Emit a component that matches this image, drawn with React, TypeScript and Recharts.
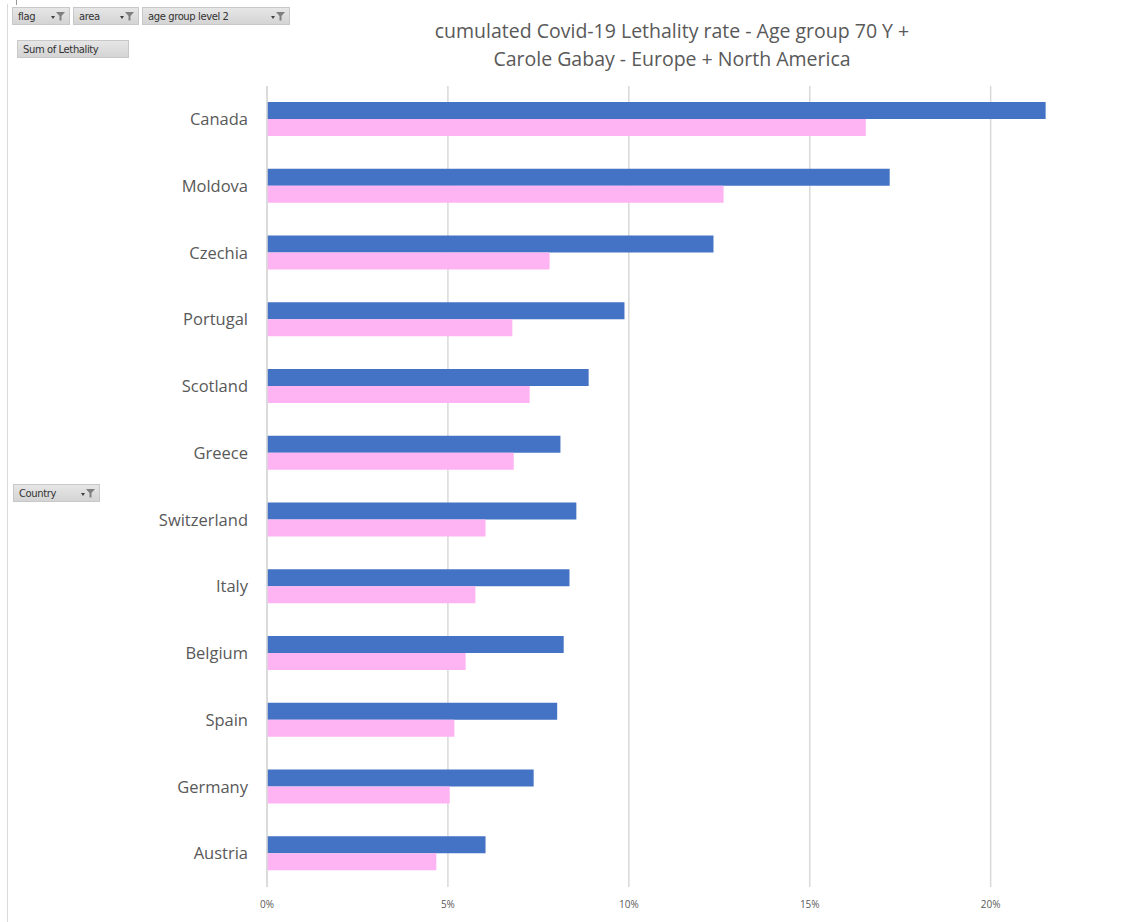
import React from 'react';
import { BarChart, Bar, XAxis, YAxis, CartesianGrid } from 'recharts';

const countries = [
  'Canada', 'Moldova', 'Czechia', 'Portugal', 'Scotland', 'Greece',
  'Switzerland', 'Italy', 'Belgium', 'Spain', 'Germany', 'Austria',
];
const seriesA = [0.2152, 0.1721, 0.1234, 0.0988, 0.0889, 0.0811, 0.0855, 0.0836, 0.082, 0.0802, 0.0737, 0.0604];
const seriesB = [0.1655, 0.1262, 0.0781, 0.0678, 0.0726, 0.0682, 0.0604, 0.0576, 0.0549, 0.0518, 0.0505, 0.0468];
const xTicks = [0, 0.05, 0.1, 0.15, 0.2];

const data = countries.map((c, i) => ({ country: c, a: seriesA[i], b: seriesB[i] }));

const BLUE = '#4472C4';
const PINK = '#FEB4F2';
const TEXT = '#595959';
const GRID = '#D9D9D9';

const Funnel: React.FC = () => (
  <svg width="16" height="10" viewBox="0 0 16 10" style={{ marginLeft: 4 }}>
    <path d="M1 5 L5 5 L3 8 Z" fill="#404040" />
    <path d="M6 1 L15 1 L11.5 5 L11.5 9.5 L9.5 9.5 L9.5 5 Z" fill="#7f7f7f" />
  </svg>
);

const FieldButton: React.FC<{ label: string; left: number; top: number; width: number; filter?: boolean }> = ({
  label, left, top, width, filter = true,
}) => (
  <div
    style={{
      position: 'absolute',
      left,
      top,
      width,
      height: 18,
      boxSizing: 'border-box',
      background: 'linear-gradient(#e6e6e6, #d4d4d4)',
      border: '1px solid #c8c8c8',
      display: 'flex',
      alignItems: 'center',
      justifyContent: 'space-between',
      padding: '0 3px 0 5px',
      fontFamily: 'Tahoma, "DejaVu Sans", sans-serif',
      fontSize: 10,
      letterSpacing: -0.4,
      color: '#333',
    }}
  >
    <span>{label}</span>
    {filter && <Funnel />}
  </div>
);

export default function App() {
  return (
    <div style={{ position: 'absolute', left: 0, top: 0, width: 1132, height: 922, background: '#fff', overflow: 'hidden' }}>
      <div style={{ position: 'absolute', left: 7, top: 4, width: 1, height: 918, background: '#d9d9d9' }} />
      <div style={{ position: 'absolute', left: 16, top: 0, width: 1, height: 5, background: '#999' }} />
      <FieldButton label="flag" left={12} top={7} width={58} />
      <FieldButton label="area" left={73} top={7} width={66} />
      <FieldButton label="age group level 2" left={142} top={7} width={148} />
      <FieldButton label="Sum of Lethality" left={17} top={40} width={112} filter={false} />
      <FieldButton label="Country" left={13} top={484} width={87} />
      <div
        style={{
          position: 'absolute',
          left: 372,
          top: 17,
          width: 600,
          textAlign: 'center',
          fontFamily: '"Open Sans", sans-serif',
          fontSize: 19.5,
          lineHeight: '28px',
          color: TEXT,
        }}
      >
        cumulated Covid-19 Lethality rate - Age group 70 Y +
        <br />
        Carole Gabay - Europe + North America
      </div>
      <div style={{ position: 'absolute', left: 0, top: 0 }}>
        <BarChart
          width={1132}
          height={922}
          data={data}
          layout="vertical"
          margin={{ top: 86, right: 69, bottom: 0, left: 0 }}
          barGap={0}
          barSize={17}
        >
          <CartesianGrid horizontal={false} verticalValues={xTicks} stroke={GRID} strokeWidth={1.5} />
          <XAxis
            type="number"
            domain={[0, 0.22]}
            ticks={xTicks}
            axisLine={false}
            tickLine={false}
            tickSize={0}
            tickMargin={14}
            tickFormatter={(v: number) => `${Math.round(v * 100)}%`}
            tick={{ fill: TEXT, fontSize: 10, fontFamily: '"Open Sans", sans-serif' }}
            height={35}
          />
          <YAxis
            type="category"
            dataKey="country"
            width={267}
            axisLine={{ stroke: GRID, strokeWidth: 1.5 }}
            tickLine={false}
            tickSize={0}
            tickMargin={19}
            interval={0}
            tick={{ fill: TEXT, fontSize: 16.5, fontFamily: '"Open Sans", sans-serif' }}
          />
          <Bar dataKey="a" fill={BLUE} isAnimationActive={false} />
          <Bar dataKey="b" fill={PINK} isAnimationActive={false} />
        </BarChart>
      </div>
    </div>
  );
}
